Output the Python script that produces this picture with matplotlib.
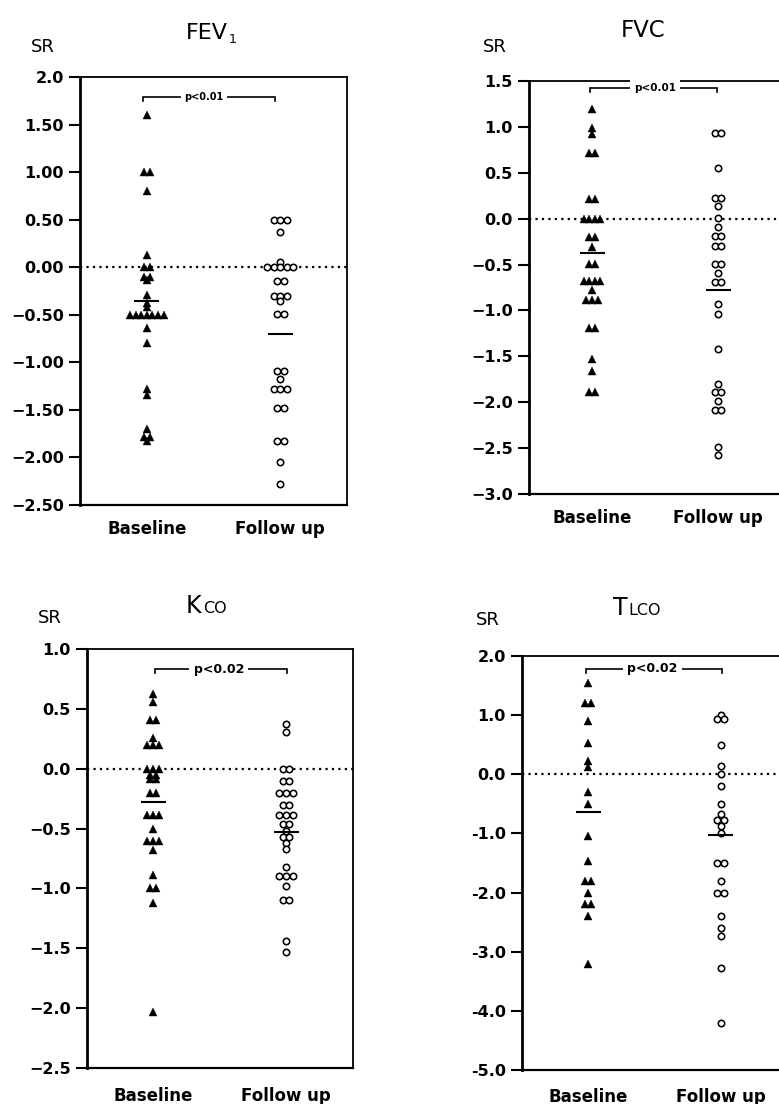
import matplotlib
matplotlib.use("Agg")
import matplotlib.pyplot as plt
import numpy as np

W, H = 779, 1104
DPI = 100

groups = ["Baseline", "Follow up"]

# ---------------- data (SR values) ----------------
fev1_baseline = [1.6, 1.0, 1.0, 0.8, 0.13, 0.0, 0.0, -0.1, -0.1, -0.13, -0.29, -0.38, -0.42,
                 -0.5, -0.5, -0.5, -0.5, -0.5, -0.5, -0.5, -0.64, -0.8, -1.28, -1.34,
                 -1.70, -1.78, -1.78, -1.83]
fev1_followup = [0.5, 0.5, 0.5, 0.37, 0.06, 0.0, 0.0, 0.0, 0.0, 0.0, -0.15, -0.15,
                 -0.30, -0.30, -0.30, -0.35, -0.49, -0.49, -1.09, -1.09, -1.17,
                 -1.28, -1.28, -1.28, -1.48, -1.48, -1.83, -1.83, -2.05, -2.28]
fev1_means = [-0.36, -0.70]
fev1_ticks = [2.0, 1.5, 1.0, 0.5, 0.0, -0.5, -1.0, -1.5, -2.0, -2.5]
fev1_ticklabels = ["2.0", "1.50", "1.00", "0.50", "0.00", "\u22120.50", "\u22121.00",
                   "\u22121.50", "\u22122.00", "\u22122.50"]
fev1_p = "p<0.01"

fvc_baseline = [1.19, 0.99, 0.92, 0.72, 0.72, 0.21, 0.21, 0.0, 0.0, 0.0, 0.0,
                -0.20, -0.20, -0.31, -0.49, -0.49, -0.68, -0.68, -0.68, -0.68, -0.78,
                -0.89, -0.89, -0.89, -1.19, -1.19, -1.53, -1.66, -1.89, -1.89]
fvc_followup = [0.93, 0.93, 0.55, 0.22, 0.22, 0.14, 0.01, -0.09, -0.19, -0.19,
                -0.30, -0.30, -0.49, -0.49, -0.59, -0.69, -0.69, -0.93, -1.04, -1.42,
                -1.80, -1.89, -1.89, -1.99, -2.09, -2.09, -2.49, -2.58]
fvc_means = [-0.376, -0.78]
fvc_ticks = [1.5, 1.0, 0.5, 0.0, -0.5, -1.0, -1.5, -2.0, -2.5, -3.0]
fvc_ticklabels = ["1.5", "1.0", "0.5", "0.0", "\u22120.5", "\u22121.0", "\u22121.5",
                  "\u22122.0", "\u22122.5", "\u22123.0"]
fvc_p = "p<0.01"

kco_baseline = [0.625, 0.555, 0.405, 0.405, 0.26, 0.2, 0.2, 0.2, 0.0, 0.0, 0.0,
                -0.05, -0.05, -0.09, -0.09, -0.2, -0.2, -0.39, -0.39, -0.39, -0.5,
                -0.6, -0.6, -0.6, -0.68, -0.89, -1.0, -1.0, -1.12, -2.03]
kco_followup = [0.375, 0.31, 0.0, 0.0, -0.10, -0.10, -0.2, -0.2, -0.2, -0.30, -0.30,
                -0.39, -0.39, -0.39, -0.46, -0.46, -0.52, -0.57, -0.57, -0.62, -0.67,
                -0.825, -0.90, -0.90, -0.90, -0.98, -1.10, -1.10, -1.44, -1.53]
kco_means = [-0.275, -0.525]
kco_ticks = [1.0, 0.5, 0.0, -0.5, -1.0, -1.5, -2.0, -2.5]
kco_ticklabels = ["1.0", "0.5", "0.0", "\u22120.5", "\u22121.0", "\u22121.5", "\u22122.0",
                  "\u22122.5"]
kco_p = "p<0.02"

tlco_baseline = [1.55, 1.2, 1.2, 0.9, 0.53, 0.22, 0.12, -0.3, -0.5, -1.04, -1.47,
                 -1.8, -1.8, -2.0, -2.2, -2.2, -2.4, -3.2]
tlco_followup = [1.0, 0.93, 0.93, 0.5, 0.14, 0.0, -0.19, -0.5, -0.67, -0.78, -0.78,
                 -0.87, -1.0, -1.5, -1.5, -1.8, -2.0, -2.0, -2.4, -2.6, -2.73, -3.27,
                 -4.2]
tlco_means = [-0.63, -1.02]
tlco_ticks = [2.0, 1.0, 0.0, -1.0, -2.0, -3.0, -4.0, -5.0]
tlco_ticklabels = ["2.0", "1.0", "0.0", "-1.0", "-2.0", "-3.0", "-4.0", "-5.0"]
tlco_p = "p<0.02"

FONT = "DejaVu Sans"
plt.rcParams["font.family"] = [FONT]

fig = plt.figure(figsize=(W / DPI, H / DPI), dpi=DPI)
fig.patch.set_facecolor("white")


def rect(left, top, right, bottom):
    return [left / W, 1 - bottom / H, (right - left) / W, (bottom - top) / H]


def offsets(values, spacing):
    vals = np.asarray(values, dtype=float)
    off = np.zeros_like(vals)
    for v in np.unique(vals):
        idx = np.where(vals == v)[0]
        n = len(idx)
        off[idx] = (np.arange(n) - (n - 1) / 2) * spacing
    return off


def panel(box, ylim, ticks, ticklabels, base, fu, means, ptext, bracket, pfs, xpad):
    left, top, right, bottom = box
    ax = fig.add_axes(rect(left, top, right, bottom))
    ax.set_xlim(0, 4)
    ax.set_ylim(*ylim)
    px_per_unit = (right - left) / 4.0
    xpos = [1, 3]

    ax.axhline(0, color="black", lw=1.6, ls=(0, (1, 1.9)), zorder=1)

    b = np.asarray(base)
    ax.plot(xpos[0] + offsets(b, 5.6 / px_per_unit), b, ls="none", marker="^",
            ms=5.4, mfc="black", mec="black", mew=0.3, zorder=3, clip_on=False)
    f = np.asarray(fu)
    ax.plot(xpos[1] + offsets(f, 6.6 / px_per_unit), f, ls="none", marker="o",
            ms=4.6, mfc="white", mec="black", mew=1.15, zorder=3, clip_on=False)

    hw = 12.5 / px_per_unit
    for xp, m in zip(xpos, means):
        ax.plot([xp - hw, xp + hw], [m, m], color="black", lw=1.5, zorder=4,
                solid_capstyle="butt")

    # significance bracket
    x0, x1, yb, xt = bracket
    trans = ax.get_xaxis_transform()
    tick = 4.0 / (bottom - top)
    ax.plot([x0, x0, x1, x1], [yb - tick, yb, yb, yb - tick], color="black", lw=1.2,
            transform=trans, zorder=2, solid_joinstyle="miter")
    ax.text(xt, yb, ptext, transform=trans, ha="center", va="center", fontsize=pfs,
            fontweight="bold", zorder=5,
            bbox=dict(boxstyle="square,pad=0.35", fc="white", ec="none"))

    ax.set_yticks(ticks)
    ax.set_yticklabels(ticklabels)
    ax.tick_params(axis="y", direction="out", length=8, width=1.5, pad=3.5,
                   labelsize=11.5)
    for lab in ax.get_yticklabels():
        lab.set_fontweight("bold")
    ax.set_xticks(xpos)
    ax.set_xticklabels(groups)
    ax.tick_params(axis="x", length=0, pad=xpad, labelsize=12)
    for lab in ax.get_xticklabels():
        lab.set_fontweight("bold")

    ax.spines["left"].set_linewidth(2.0)
    ax.spines["bottom"].set_linewidth(1.6)
    ax.spines["top"].set_linewidth(1.3)
    ax.spines["right"].set_linewidth(1.3)
    return ax


panel((80, 77, 347, 505), (-2.5, 2.0), fev1_ticks, fev1_ticklabels, fev1_baseline,
      fev1_followup, fev1_means, fev1_p, (0.944, 2.92, 0.953, 1.86), 7.0, 11)
panel((529, 81, 781, 494), (-3.0, 1.5), fvc_ticks, fvc_ticklabels, fvc_baseline,
      fvc_followup, fvc_means, fvc_p, (0.97, 2.98, 0.982, 2.0), 7.5, 11)
panel((86.5, 649, 352.5, 1068), (-2.5, 1.0), kco_ticks, kco_ticklabels, kco_baseline,
      kco_followup, kco_means, kco_p, (1.03, 3.01, 0.952, 1.99), 9.0, 14)
panel((522, 656, 787, 1070), (-5.0, 2.0), tlco_ticks, tlco_ticklabels, tlco_baseline,
      tlco_followup, tlco_means, tlco_p, (0.966, 3.02, 0.969, 1.97), 9.0, 13)

renderer = fig.canvas.get_renderer()


def title(x_px, y_px, big, small, fs_big, fs_small, dy_small=0.0):
    t = fig.text(x_px / W, 1 - y_px / H, big, fontsize=fs_big, va="baseline", ha="left")
    bb = t.get_window_extent(renderer)
    fig.text((bb.x1 + 1) / W, 1 - (y_px + dy_small) / H, small, fontsize=fs_small,
             va="baseline", ha="left")


title(186, 39, "FEV", "1", 16, 9, dy_small=4)
fig.text(643 / W, 1 - 37 / H, "FVC", fontsize=16.5, va="baseline", ha="center")
title(186, 613, "K", "CO", 17, 11.5)
title(613, 615, "T", "LCO", 17, 11.5)

for (sx, sy) in [(43, 47), (495, 47), (50, 618), (488, 620)]:
    fig.text(sx / W, 1 - sy / H, "SR", fontsize=13, ha="center", va="center")

fig.savefig("out.png", dpi=DPI, facecolor="white")
